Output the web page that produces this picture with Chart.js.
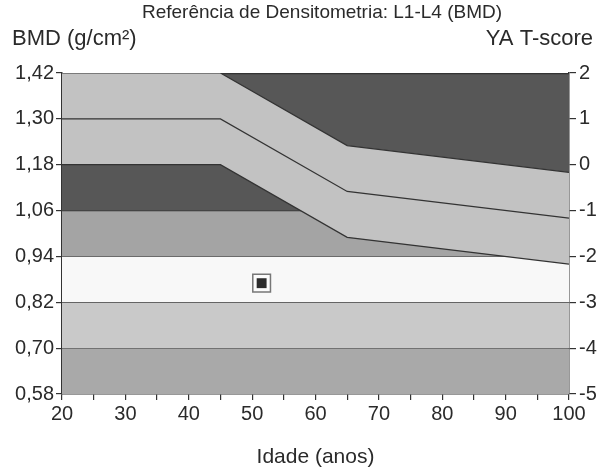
<!DOCTYPE html>
<html>
<head>
<meta charset="utf-8">
<script src="https://cdn.jsdelivr.net/npm/chart.js@4"></script>
<style>
  html, body { margin: 0; padding: 0; background: #fff; }
  #wrap { width: 613px; height: 472px; }
</style>
</head>
<body>
<div id="wrap"><canvas id="chartBmd"></canvas></div>
<script>
// curvas de referência por idade
const idades = [20, 45, 65, 100];
const refMedia = [1.30, 1.30, 1.11, 1.04];
const refMais1dp = [1.42, 1.42, 1.23, 1.16];
const refMenos1dp = [1.18, 1.18, 0.99, 0.92];

// faixas horizontais (limite superior de cada faixa)
const faixas = [0.70, 0.82, 0.94, 1.06, 1.42];

// paciente
const pacienteIdade = [51.5];
const pacienteBmd = [0.87];

const ticksBmd = [0.58, 0.70, 0.82, 0.94, 1.06, 1.18, 1.30, 1.42];
const ticksIdade = [20, 25, 30, 35, 40, 45, 50, 55, 60, 65, 70, 75, 80, 85, 90, 95, 100];
const ticksT = [-5, -4, -3, -2, -1, 0, 1, 2];

const FONTE = "'Liberation Sans', Arial, sans-serif";
const TEXTO = "#2a2a2a";
const LINHA = "#333";

const curva = vals => idades.map((x, i) => ({ x: x, y: vals[i] }));
const reta = v => [{ x: 20, y: v }, { x: 100, y: v }];
const pontos = pacienteIdade.map((x, i) => ({ x: x, y: pacienteBmd[i] }));

const cabecalho = {
  id: "cabecalho",
  afterDraw(chart) {
    const ctx = chart.ctx;
    ctx.save();
    ctx.fillStyle = TEXTO;
    ctx.textBaseline = "middle";
    ctx.font = "19px " + FONTE;
    ctx.textAlign = "center";
    ctx.fillText("Referência de Densitometria: L1-L4 (BMD)", 322, 13);
    ctx.font = "22px " + FONTE;
    ctx.textAlign = "left";
    ctx.fillText("BMD (g/cm²)", 12, 39);
    ctx.textAlign = "right";
    ctx.fillText("YA T-score", 593, 39);
    ctx.restore();
  }
};

const base = { pointRadius: 0, borderColor: LINHA, borderWidth: 1.2, tension: 0 };

new Chart(document.getElementById("chartBmd"), {
  type: "line",
  data: {
    datasets: [
      { ...base, data: pontos, showLine: false, pointRadius: 7, pointStyle: "rect",
        pointBackgroundColor: "#2b2b2b", pointBorderColor: "#2b2b2b", pointBorderWidth: 0, fill: false },
      { ...base, data: pontos, showLine: false, pointRadius: 12.5, pointStyle: "rect",
        pointBackgroundColor: "#fbfbfb", pointBorderColor: "#777", pointBorderWidth: 1.5, fill: false },
      { ...base, data: curva(refMedia), fill: false },
      { ...base, data: curva(refMenos1dp), fill: false },
      { ...base, data: curva(refMais1dp), fill: "-1", backgroundColor: "#c2c2c2" },
      { ...base, data: reta(faixas[4]), borderWidth: 2.5, fill: "+1", backgroundColor: "#575757" },
      { ...base, data: reta(faixas[3]), fill: "+1", backgroundColor: "#a4a4a4" },
      { ...base, data: reta(faixas[2]), fill: "+1", backgroundColor: "#f8f8f8" },
      { ...base, data: reta(faixas[1]), fill: "+1", backgroundColor: "#c9c9c9" },
      { ...base, data: reta(faixas[0]), fill: "start", backgroundColor: "#a9a9a9" }
    ]
  },
  options: {
    responsive: true,
    maintainAspectRatio: false,
    animation: false,
    layout: { padding: { top: 73, left: 0, right: 0, bottom: 0 } },
    plugins: {
      legend: { display: false },
      tooltip: { enabled: false },
      title: { display: false }
    },
    scales: {
      x: {
        type: "linear", min: 20, max: 100,
        afterBuildTicks: s => { s.ticks = ticksIdade.map(v => ({ value: v })); },
        afterFit: s => { s.height = 78; },
        ticks: { color: TEXTO, font: { family: FONTE, size: 20 }, padding: 2, maxRotation: 0, autoSkip: false,
          callback: v => (v % 10 === 0 ? v : "") },
        grid: { drawOnChartArea: false, color: LINHA, tickLength: 6, lineWidth: 1.2 },
        border: { color: LINHA, width: 1.5 },
        title: { display: true, text: "Idade (anos)", color: TEXTO, font: { family: FONTE, size: 21 }, padding: { top: 4, bottom: 2 } }
      },
      y: {
        type: "linear", position: "left", min: 0.58, max: 1.42,
        afterBuildTicks: s => { s.ticks = ticksBmd.map(v => ({ value: v })); },
        afterFit: s => { s.width = 62; },
        ticks: { color: TEXTO, font: { family: FONTE, size: 20 }, padding: 2,
          callback: v => v.toFixed(2).replace(".", ",") },
        grid: { drawOnChartArea: false, color: LINHA, tickLength: 6, lineWidth: 1.2 },
        border: { color: LINHA, width: 1.5 }
      },
      t: {
        type: "linear", position: "right", min: -5, max: 2,
        afterBuildTicks: s => { s.ticks = ticksT.map(v => ({ value: v })); },
        afterFit: s => { s.width = 44; },
        ticks: { color: TEXTO, font: { family: FONTE, size: 20 }, padding: 3 },
        grid: { drawOnChartArea: false, color: LINHA, tickLength: 7, lineWidth: 1.2 },
        border: { color: LINHA, width: 1.5 }
      }
    }
  },
  plugins: [cabecalho]
});
</script>
</body>
</html>
